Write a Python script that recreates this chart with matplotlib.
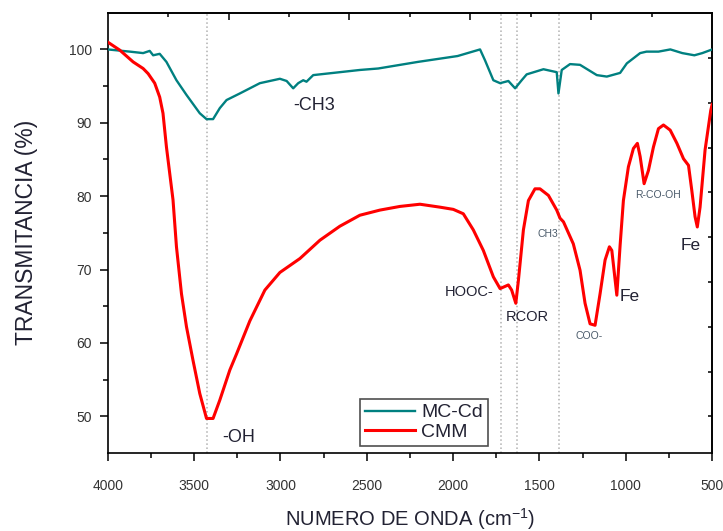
import numpy as np
import matplotlib
matplotlib.use("Agg")
import matplotlib.pyplot as plt

plt.rcParams['font.family'] = ['Liberation Sans', 'DejaVu Sans']
plt.rcParams['mathtext.default'] = 'regular'

# MC-Cd spectrum (teal)
mc_x = [4000, 3872, 3795, 3757, 3737, 3699, 3660, 3602, 3544, 3467, 3428, 3390,
        3351, 3312, 3235, 3119, 3003, 2964, 2926, 2897, 2868, 2849, 2810, 2694,
        2540, 2434, 2204, 1974, 1844, 1815, 1767, 1728, 1680, 1641, 1603, 1574,
        1477, 1400, 1390, 1371, 1323, 1265, 1168, 1110, 1033, 994, 917, 880,
        811, 742, 673, 603, 557, 511, 500]
mc_y = [100.0, 99.7, 99.5, 99.8, 99.2, 99.4, 98.3, 95.8, 93.8, 91.3, 90.5, 90.5,
        92.0, 93.1, 94.0, 95.4, 96.0, 95.7, 94.7, 95.4, 95.8, 95.6, 96.5, 96.8,
        97.2, 97.4, 98.3, 99.1, 100.0, 98.5, 95.8, 95.4, 95.7, 94.7, 95.8, 96.6,
        97.3, 96.9, 94.0, 97.2, 98.0, 97.9, 96.5, 96.3, 96.8, 98.1, 99.5, 99.7,
        99.7, 100.0, 99.5, 99.2, 99.5, 99.9, 100.0]

# CMM spectrum (red)
cmm_x = [4000, 3930, 3853, 3795, 3766, 3728, 3699, 3680, 3660, 3622, 3602, 3573,
         3544, 3506, 3467, 3428, 3390, 3351, 3293, 3254, 3177, 3090, 3003, 2887,
         2771, 2656, 2540, 2424, 2308, 2192, 2076, 1999, 1941, 1883, 1825, 1767,
         1728, 1680, 1661, 1637, 1622, 1593, 1564, 1526, 1497, 1448, 1400, 1381,
         1361, 1304, 1265, 1236, 1207, 1178, 1149, 1120, 1095, 1081, 1052, 1033,
         1014, 985, 956, 933, 917, 894, 869, 840, 811, 782, 743, 704, 666, 637,
         618, 599, 586, 570, 541, 508, 500]
cmm_y = [101.0, 99.9, 98.3, 97.4, 96.7, 95.4, 93.5, 91.3, 86.7, 79.5, 73.1, 66.7,
         62.2, 57.6, 53.1, 49.7, 49.7, 52.2, 56.3, 58.5, 63.0, 67.2, 69.6, 71.5,
         74.0, 75.9, 77.4, 78.1, 78.6, 78.9, 78.5, 78.2, 77.6, 75.4, 72.6, 69.0,
         67.4, 67.9, 67.2, 65.4, 68.5, 75.4, 79.4, 81.0, 81.0, 80.1, 78.1, 77.0,
         76.5, 73.5, 69.9, 65.4, 62.6, 62.4, 66.7, 71.3, 73.1, 72.6, 66.5, 73.3,
         79.4, 84.0, 86.5, 87.2, 85.4, 81.7, 83.5, 86.7, 89.2, 89.7, 89.0, 87.2,
         85.1, 84.2, 80.8, 77.2, 75.8, 78.5, 86.3, 91.7, 92.5]

# marker lines and peak labels
marker_x = [3425, 1724, 1632, 1388]
labels = ['-OH', '-CH3', 'HOOC-', 'RCOR', 'CH3', 'COO-', 'Fe', 'R-CO-OH', 'Fe']
label_x = [3339, 2928, 1905, 1569, 1453, 1213, 978, 816, 622]
label_y = [47.1, 92.4, 67.0, 63.5, 74.8, 60.9, 66.3, 80.1, 73.3]
label_size = [13, 13, 10.5, 10.5, 7.5, 7.5, 12.5, 7.5, 12.5]
label_color = ['#222233', '#222233', '#222233', '#222233', '#4a5a6a',
               '#4a5a6a', '#222233', '#4a5a6a', '#222233']
label_ha = ['left', 'left', 'center', 'center', 'center', 'center', 'center',
            'center', 'center']

fig = plt.figure(figsize=(7.23, 5.31), dpi=100)
ax = fig.add_axes([0.149, 0.147, 0.836, 0.829])

for mx in marker_x:
    ax.axvline(mx, color='#b0b0b0', linestyle=':', linewidth=1.1, zorder=1)

ax.plot(mc_x, mc_y, color='#008080', linewidth=1.7, label='MC-Cd', zorder=3)
ax.plot(cmm_x, cmm_y, color='#ff0000', linewidth=2.2, label='CMM', zorder=3)

for t, x, y, s, c, ha in zip(labels, label_x, label_y, label_size, label_color, label_ha):
    ax.text(x, y, t, fontsize=s, color=c, ha=ha, va='center')

ax.set_xlim(4000, 500)
ax.set_ylim(45, 105)
ax.set_xticks(np.arange(4000, 499, -500))
ax.set_xticks(np.arange(3750, 500, -500), minor=True)
ax.set_yticks(np.arange(50, 101, 10))
ax.set_yticks(np.arange(55, 101, 10), minor=True)
ax.tick_params(axis='both', which='major', direction='out', length=5.5, width=1.1,
               labelsize=10, labelcolor='#333333')
ax.tick_params(axis='both', which='minor', direction='out', length=3.5, width=1.1)
ax.tick_params(axis='x', which='major', pad=13)
ax.tick_params(axis='y', which='major', pad=6)

for sp in ax.spines.values():
    sp.set_linewidth(1.2)

# mirrored top / right axes with their own ticks
top = ax.secondary_xaxis('top')
top.set_xticks([3300, 2600, 1900, 1200])
top.set_xticks([3650, 2950, 2250, 1550, 850], minor=True)
top.tick_params(which='major', direction='in', length=5, width=1.1, labeltop=False)
top.tick_params(which='minor', direction='in', length=3, width=1.1)
top.spines['top'].set_linewidth(1.2)

right = ax.secondary_yaxis('right')
right.set_yticks([50 + 6.1 * k for k in range(9)])
right.tick_params(direction='in', length=3, width=1.1, labelright=False)
right.spines['right'].set_linewidth(1.2)

ax.set_xlabel('NUMERO DE ONDA (cm$^{-1}$)', fontsize=14.5, color='#222233', labelpad=10)
ax.set_ylabel('TRANSMITANCIA (%)', fontsize=16.5, color='#222233', labelpad=22)

leg = ax.legend(loc='lower left', bbox_to_anchor=(0.417, 0.016), fontsize=14,
                frameon=True, fancybox=False, handlelength=2.6, handletextpad=0.3,
                borderpad=0.25, labelspacing=0.1, borderaxespad=0)
leg.get_frame().set_edgecolor('#222222')
leg.get_frame().set_linewidth(1.2)
for txt in leg.get_texts():
    txt.set_color('#222233')

fig.savefig('out.png', dpi=100)
